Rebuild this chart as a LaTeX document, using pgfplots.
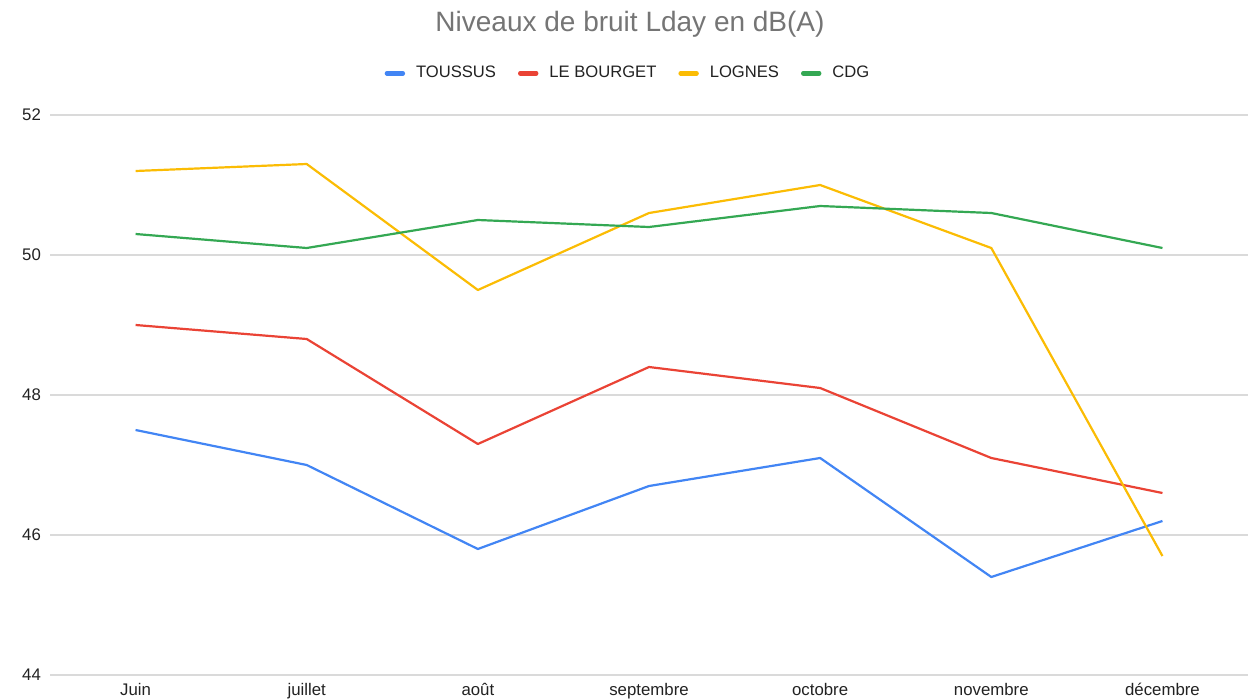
\documentclass[border=0pt]{standalone}
\usepackage{fontspec}
\setmainfont{Liberation Sans}
\usepackage{pgfplots}
\pgfplotsset{compat=1.18}
\definecolor{gblue}{HTML}{4285F4}
\definecolor{gred}{HTML}{EA4335}
\definecolor{gyellow}{HTML}{FBBC04}
\definecolor{ggreen}{HTML}{34A853}
\definecolor{gridgray}{HTML}{DADADA}
\definecolor{titlegray}{HTML}{757575}
\definecolor{labgray}{HTML}{222222}
\begin{document}
\begin{tikzpicture}
\begin{axis}[
    at={(0,0)}, anchor=south west,
    scale only axis,
    width=599pt, height=280pt,
    xmin=-0.5, xmax=6.5,
    ymin=44, ymax=52,
    xtick={0,1,2,3,4,5,6},
    xticklabels={Juin,juillet,août,septembre,octobre,novembre,décembre},
    ytick={44,46,48,50,52},
    /pgf/number format/assume math mode=true,
    axis line style={draw=none},
    major tick length=0pt,
    ymajorgrids,
    grid style={gridgray, line width=0.8pt},
    tick label style={font=\fontsize{8.4}{10}\selectfont, text=labgray},
    xticklabel style={text height=6pt, text depth=1.5pt, yshift=-0.5pt},
    yticklabel style={xshift=-1pt},
    legend columns=-1,
    legend style={at={(0.5,1)}, anchor=south, yshift=13pt, xshift=-10pt, draw=none,
        font=\fontsize{8.3}{10}\selectfont, text=labgray,
        /tikz/every odd column/.append style={column sep=3.5pt},
        /tikz/every even column/.append style={column sep=9pt}},
    legend image code/.code={\draw[line width=2.2pt, line cap=round] (0pt,0pt) -- (8pt,0pt);},
    every axis plot/.append style={line width=1.1pt, line join=round},
]
\addplot[gblue] coordinates {(0,47.5) (1,47.0) (2,45.8) (3,46.7) (4,47.1) (5,45.4) (6,46.2)};
\addlegendentry{TOUSSUS}
\addplot[gred] coordinates {(0,49.0) (1,48.8) (2,47.3) (3,48.4) (4,48.1) (5,47.1) (6,46.6)};
\addlegendentry{LE BOURGET}
\addplot[gyellow] coordinates {(0,51.2) (1,51.3) (2,49.5) (3,50.6) (4,51.0) (5,50.1) (6,45.7)};
\addlegendentry{LOGNES}
\addplot[ggreen] coordinates {(0,50.3) (1,50.1) (2,50.5) (3,50.4) (4,50.7) (5,50.6) (6,50.1)};
\addlegendentry{CDG}
\end{axis}
\node[text=titlegray, font=\fontsize{14}{16}\selectfont] at (290pt,325.5pt) {Niveaux de bruit Lday en dB(A)};
\pgfresetboundingbox
\path (-25pt,-12.5pt) rectangle (603pt,337.5pt);
\end{tikzpicture}
\end{document}
